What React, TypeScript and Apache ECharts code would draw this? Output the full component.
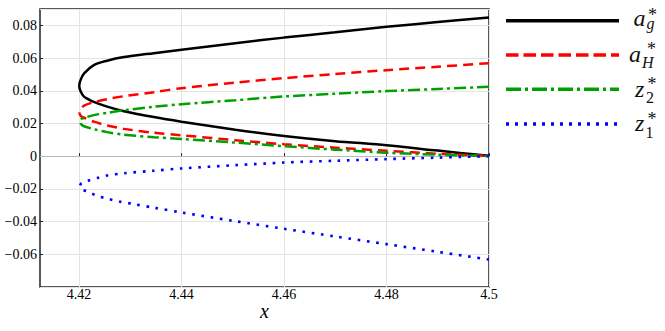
import React, { useEffect, useRef } from "react";
import * as echarts from "echarts";

// x tick positions and axis extents
const xTicks = [4.42, 4.44, 4.46, 4.48, 4.5];
const xMin = 4.4124;
const xMax = 4.5;
const yMin = -0.08;
const yMax = 0.09;

// a_g* (black solid): upper branch from x=4.5 to the nose, then lower branch back
const agUpper = [[4.5, 0.0848], [4.49, 0.082], [4.48, 0.0791], [4.47, 0.0758], [4.46, 0.0725], [4.4505, 0.0691], [4.44, 0.0651], [4.4346, 0.063], [4.4288, 0.0606], [4.4255, 0.0584], [4.4229, 0.0557], [4.421, 0.0506], [4.4203, 0.0465]];
const agNose = [[4.42006, 0.0431]];
const agLower = [[4.4203, 0.0398], [4.421, 0.0363], [4.4229, 0.0332], [4.4255, 0.0303], [4.4288, 0.0275], [4.4346, 0.0239], [4.44, 0.0211], [4.4505, 0.0162], [4.46, 0.0124], [4.47, 0.0092], [4.48, 0.0067], [4.49, 0.0034], [4.5, 0.0002]];

// a_H* (red dashed)
const aHUpper = [[4.5, 0.0569], [4.49, 0.0547], [4.48, 0.0526], [4.47, 0.0502], [4.46, 0.0477], [4.4505, 0.045], [4.44, 0.0416], [4.4346, 0.0391], [4.4288, 0.0367], [4.4255, 0.0349], [4.4229, 0.033], [4.421, 0.0309], [4.4204, 0.0291]];
const aHNose = [[4.4201, 0.0265]];
const aHLower = [[4.4204, 0.0245], [4.421, 0.0235], [4.4229, 0.0211], [4.4255, 0.0188], [4.4288, 0.0167], [4.4346, 0.0143], [4.44, 0.0128], [4.4505, 0.0098], [4.46, 0.0073], [4.47, 0.0052], [4.48, 0.0033], [4.49, 0.0015], [4.5, 0.0001]];

// z_2* (green dash-dot)
const z2Upper = [[4.5, 0.0424], [4.49, 0.0411], [4.48, 0.0398], [4.47, 0.0382], [4.46, 0.0365], [4.4505, 0.0342], [4.44, 0.0318], [4.4346, 0.0302], [4.4288, 0.0281], [4.4255, 0.0265], [4.4229, 0.0251], [4.421, 0.0234], [4.4204, 0.0226]];
const z2Nose = [[4.4202, 0.021]];
const z2Lower = [[4.4204, 0.0196], [4.421, 0.0183], [4.4229, 0.0165], [4.4255, 0.0147], [4.4288, 0.0131], [4.4346, 0.0116], [4.44, 0.0105], [4.4505, 0.0083], [4.46, 0.0061], [4.47, 0.004], [4.48, 0.0021], [4.49, 0.0009], [4.5, 0.0]];

// z_1* (blue dotted)
const z1Upper = [[4.5, 0.0], [4.49, -0.0009], [4.48, -0.0018], [4.47, -0.0028], [4.46, -0.0039], [4.4505, -0.0055], [4.44, -0.0075], [4.4346, -0.0089], [4.4288, -0.0104], [4.4255, -0.0118], [4.4236, -0.0133], [4.4216, -0.0151], [4.4205, -0.0165]];
const z1Nose = [[4.4202, -0.0183]];
const z1Lower = [[4.4205, -0.0202], [4.4218, -0.0218], [4.4235, -0.0242], [4.4254, -0.0259], [4.428, -0.0278], [4.4309, -0.0294], [4.4346, -0.0315], [4.44, -0.0344], [4.45, -0.0395], [4.46, -0.0444], [4.47, -0.0491], [4.48, -0.0538], [4.49, -0.0585], [4.5, -0.0632]];

const FONT = "Liberation Serif";

function fmtY(v: number): string {
  if (Math.abs(v) < 1e-9) return "0";
  return (v < 0 ? "\u2212" : "") + Math.abs(v).toFixed(2);
}

export default function App() {
  const ref = useRef<HTMLDivElement>(null);
  useEffect(() => {
    if (!ref.current) return;
    const chart = echarts.init(ref.current, undefined, { renderer: "svg" });
    const mk = (name: string, pts: number[][], color: string, type: any, width: number, extra: any = {}) => ({
      name,
      type: "line",
      data: pts,
      showSymbol: false,
      symbol: "none",
      smooth: 0.3,
      lineStyle: { color, width, type, cap: "butt" },
      silent: true,
      ...extra,
    });
    const legendLines = [
      { y: 20.7, color: "#000", dash: null as any },
      { y: 55, color: "#f00", dash: [12.5, 5] },
      { y: 89.3, color: "#00a000", dash: [15, 4, 3, 4] },
      { y: 124, color: "#0000ff", dash: [3, 6] },
    ];
    const main = (text: string, x: number, y: number) => ({
      type: "text",
      x,
      y,
      silent: true,
      style: {
        text,
        fill: "#111",
        fontFamily: FONT,
        fontStyle: "italic",
        fontSize: 24,
        align: "left",
        verticalAlign: "middle",
      },
    });
    const stack = (sub: string, subItalic: boolean, x: number, yStar: number, ySub: number, starPad: number) => {
      const gap = ySub - yStar;
      return {
        type: "text",
        x,
        y: (yStar + ySub) / 2,
        silent: true,
        style: {
          text: `{s|*}\n{b|${sub}}`,
          fill: "#111",
          align: "left",
          verticalAlign: "middle",
          rich: {
            s: { fontFamily: FONT, fontSize: 18, lineHeight: gap, fill: "#111", padding: [0, 0, 0, starPad] },
            b: { fontFamily: FONT, fontSize: 16, fontStyle: subItalic ? "italic" : "normal", lineHeight: gap, fill: "#111" },
          },
        },
      };
    };
    chart.setOption({
      animation: false,
      textStyle: { fontFamily: FONT },
      grid: {
        left: 40,
        right: 176,
        top: 9,
        bottom: 44,
        show: true,
        borderColor: "#222",
        borderWidth: 1.5,
        backgroundColor: "transparent",
      },
      xAxis: {
        type: "value",
        min: xMin,
        max: xMax,
        name: "x",
        nameLocation: "middle",
        nameGap: 14,
        nameMoveOverlap: false,
        nameTextStyle: { fontFamily: FONT, fontStyle: "italic", fontSize: 20, color: "#000" },
        axisLine: { show: false },
        axisTick: { show: true, inside: true, length: 3, customValues: xTicks, lineStyle: { color: "#222" } },
        axisLabel: {
          customValues: xTicks,
          fontFamily: FONT,
          fontSize: 14,
          color: "#000",
          margin: 0,
          formatter: (v: number) => String(parseFloat(v.toFixed(2))),
        },
        splitLine: { show: true, lineStyle: { color: "#e4e4e4", width: 1 } },
      },
      yAxis: {
        type: "value",
        min: yMin,
        max: yMax,
        interval: 0.02,
        axisLine: { show: false },
        axisTick: { show: true, inside: true, length: 3, lineStyle: { color: "#222" } },
        axisLabel: {
          fontFamily: FONT,
          fontSize: 14,
          color: "#000",
          margin: 3,
          showMinLabel: false,
          showMaxLabel: false,
          formatter: fmtY,
        },
        splitLine: { show: true, lineStyle: { color: "#e4e4e4", width: 1 } },
      },
      series: [
        mk("a_g", [...agUpper, ...agNose, ...agLower], "#000", "solid", 2.5, {
          markLine: {
            silent: true,
            symbol: "none",
            label: { show: false },
            lineStyle: { color: "#b8b8b8", width: 1, type: "solid" },
            data: [{ yAxis: 0 }],
            z: 1,
          },
        }),
        mk("a_H", [...aHUpper, ...aHNose, ...aHLower], "#ff0000", [10, 6], 2.5),
        mk("z_2", [...z2Upper, ...z2Nose, ...z2Lower], "#00a000", [12, 4, 3, 4], 2.5),
        mk("z_1", [...z1Upper, ...z1Nose, ...z1Lower], "#0000ff", [2.6, 6.7], 2.6),
      ],
      graphic: [
        ...legendLines.map((l) => ({
          type: "line",
          silent: true,
          shape: { x1: 506, y1: l.y, x2: 619, y2: l.y },
          style: { stroke: l.color, lineWidth: 3.5, lineDash: l.dash || undefined },
        })),
        main("a", 633.5, 18),
        stack("g", true, 646.5, 15.1, 23.6, 1.5),
        main("a", 629, 53.6),
        stack("H", true, 642, 49.1, 62.6, 5),
        main("z", 635, 88.6),
        stack("2", false, 646, 84.1, 97.3, 1.5),
        main("z", 635, 122.9),
        stack("1", false, 645.5, 119.1, 132, 2),
      ],
    });
    return () => chart.dispose();
  }, []);
  return (
    <div
      ref={ref}
      style={{ position: "fixed", left: 0, top: 0, width: 665, height: 331, background: "#fff" }}
    />
  );
}
